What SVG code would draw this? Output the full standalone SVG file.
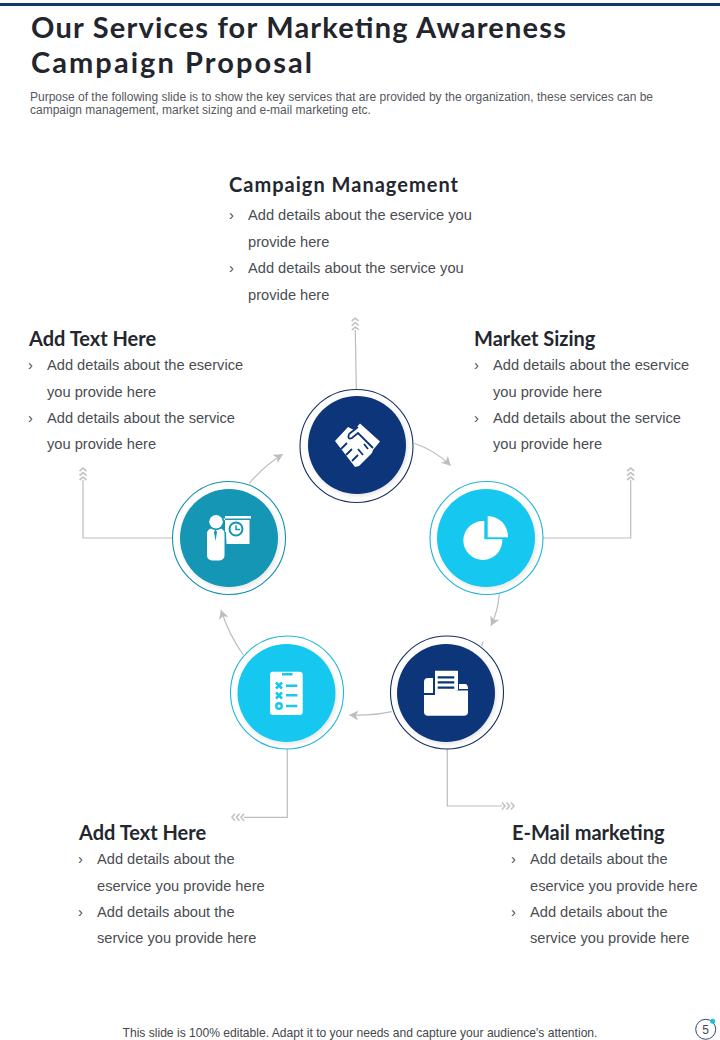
<svg xmlns="http://www.w3.org/2000/svg" width="720" height="1040" viewBox="0 0 720 1040">
<style>
.title{font:700 29px Lato,"Liberation Sans",sans-serif;fill:#22252c}
.sub{font:12px "Liberation Sans",Arial,sans-serif;fill:#55585e}
.h{font:700 20px Lato,"Liberation Sans",sans-serif;fill:#24272e}
.b{font:14.65px "Liberation Sans",Arial,sans-serif;fill:#4a4d52}
.foot{font:12.1px "Liberation Sans",Arial,sans-serif;fill:#44474c}
.c{fill:none;stroke:#bdbdbd;stroke-width:1.2}
.ring{fill:#fff;stroke-width:1.1}
.w{fill:#fff}
</style>
<defs>
<marker id="arr" markerUnits="userSpaceOnUse" markerWidth="14" markerHeight="14" refX="10" refY="6" orient="auto"><path d="M1 1L10 6L1 11L3.5 6Z" fill="#bdbdbd"/></marker>
<marker id="chev" markerUnits="userSpaceOnUse" markerWidth="16" markerHeight="12" refX="1" refY="5" orient="auto"><path d="M1 1.500L4 5L1 8.500M5.500 1.500L8.500 5L5.500 8.500M10 1.500L13 5L10 8.500" fill="none" stroke="#c4c4c4" stroke-width="1.700"/></marker>
<filter id="sh" x="-20%" y="-20%" width="140%" height="140%"><feDropShadow dx="1.500" dy="2" stdDeviation="2" flood-color="#000" flood-opacity=".1"/></filter>
</defs>
<rect id="top-bar" x="0" y="3" width="720" height="3" fill="#0f3a70"/>
<g id="header">
<text class="title" x="31" y="38" textLength="535" lengthAdjust="spacing">Our Services for Marketing Awareness</text>
<text class="title" x="31" y="73" textLength="281" lengthAdjust="spacing">Campaign Proposal</text>
<text class="sub" x="30" y="101">Purpose of the following slide is to show the key services that are provided by the organization, these services can be</text>
<text class="sub" x="30" y="114">campaign management, market sizing and e-mail marketing etc.</text>
</g>
<g id="connectors">
<path class="c" d="M356.300 389L355.300 330" marker-end="url(#chev)"/>
<path class="c" d="M543 538H630.700V480" marker-end="url(#chev)"/>
<path class="c" d="M172 538H83V480" marker-end="url(#chev)"/>
<path class="c" d="M287.300 749V817.300H244" marker-end="url(#chev)"/>
<path class="c" d="M447.300 749V806H502" marker-end="url(#chev)"/>
<path class="c" d="M414.300 443.300Q436 451 450.700 465.700" marker-end="url(#arr)"/>
<path class="c" d="M499.300 594.300Q498 611 491 625.700" marker-end="url(#arr)"/>
<path class="c" d="M483 641.700L481.700 646"/>
<path class="c" d="M391.700 711.700Q372 716 349.300 715" marker-end="url(#arr)"/>
<path class="c" d="M243.300 655Q229 635 221 610" marker-end="url(#arr)"/>
<path class="c" d="M249.300 483.300Q264 466 282.700 454.300" marker-end="url(#arr)"/>
</g>
<g id="node-campaign">
<circle class="ring" cx="356.500" cy="446" r="56.500" stroke="#14305f"/>
<circle cx="357" cy="445" r="49" fill="#0c3479" filter="url(#sh)"/>
<path class="w" d="M335 441L348 427L354 430L360 423.500L380 441.500L373 450L372 453L359 466L355 467Z"/>
<path d="M349 434Q347 440 352 438L358 433L373 448M349 434L358 427M341 449L347 443M346 455L352 449M352 461L358 455M358 449L363 455M364 444L368 449" fill="none" stroke="#0c3479" stroke-width="1.800"/>
<text class="h" x="229" y="192" textLength="229" lengthAdjust="spacing">Campaign Management</text>
<g class="b">
<text x="229" y="220">›</text><text x="248" y="220">Add details about the eservice you</text>
<text x="248" y="247">provide here</text>
<text x="229" y="273">›</text><text x="248" y="273">Add details about the service you</text>
<text x="248" y="300">provide here</text>
</g>
</g>
<g id="node-market">
<circle class="ring" cx="486.500" cy="538" r="56.500" stroke="#1fb6d8"/>
<circle cx="486" cy="538" r="49" fill="#14c8ef" filter="url(#sh)"/>
<path class="w" d="M484.300 521A19.500 19.500 0 1 0 502.300 539.300H484.300Z"/>
<path class="w" d="M487.700 516A20.500 20.500 0 0 1 508 537.300H487.700Z"/>
<text class="h" x="474" y="346">Market Sizing</text>
<g class="b">
<text x="474" y="370">›</text><text x="493" y="370">Add details about the eservice</text>
<text x="493" y="397">you provide here</text>
<text x="474" y="423">›</text><text x="493" y="423">Add details about the service</text>
<text x="493" y="449">you provide here</text>
</g>
</g>
<g id="node-email">
<circle class="ring" cx="447" cy="692.500" r="56.500" stroke="#14305f"/>
<circle cx="446" cy="693" r="49" fill="#0c3479" filter="url(#sh)"/>
<path class="w" d="M424 693V682Q424 678 428 678H433V693Z"/>
<path class="w" d="M459 684H465Q468 684 468 689H459Z"/>
<path class="w" d="M435 670.700H458V690L451 695H435Z"/>
<path class="w" d="M424 695H450L456 690.500H468V712Q468 715.700 464 715.700H428Q424 715.700 424 712Z"/>
<path d="M437.700 677.300H454.300M437.700 682.300H454.300M437.700 687.700H454.300" stroke="#0c3479" stroke-width="2.200" fill="none"/>
<text class="h" x="512" y="840">E-Mail marketing</text>
<g class="b">
<text x="511" y="864">›</text><text x="530" y="864">Add details about the</text>
<text x="530" y="891">eservice you provide here</text>
<text x="511" y="917">›</text><text x="530" y="917">Add details about the</text>
<text x="530" y="943">service you provide here</text>
</g>
</g>
<g id="node-addtext-bottom">
<circle class="ring" cx="287" cy="692.500" r="56.500" stroke="#1fb6d8"/>
<circle cx="286.500" cy="693" r="49" fill="#14c8ef" filter="url(#sh)"/>
<rect class="w" x="270" y="671.700" width="32.700" height="43.300" rx="3"/>
<path d="M282 674.300H292.500M286 685.700H297.300M286 695.300H297.300M286 706H297.300M276 682.500L282 688.500M282 682.500L276 688.500M276 692.500L282 698.500M282 692.500L276 698.500" stroke="#14c8ef" stroke-width="2.500" fill="none"/>
<circle cx="279" cy="706" r="2.700" fill="none" stroke="#14c8ef" stroke-width="2.400"/>
<text class="h" x="79" y="840">Add Text Here</text>
<g class="b">
<text x="78" y="864">›</text><text x="97" y="864">Add details about the</text>
<text x="97" y="891">eservice you provide here</text>
<text x="78" y="917">›</text><text x="97" y="917">Add details about the</text>
<text x="97" y="943">service you provide here</text>
</g>
</g>
<g id="node-addtext-left">
<circle class="ring" cx="229" cy="538" r="56.500" stroke="#1590ad"/>
<circle cx="229" cy="538" r="49" fill="#1296b5" filter="url(#sh)"/>
<path class="w" d="M224 520H251V518.500H223ZM225 516H251V520H249.500V544H226.500L226 532H225Z"/>
<rect class="w" x="207" y="528.500" width="17.500" height="32" rx="5"/>
<circle cx="216" cy="522" r="8.300" fill="#1296b5"/>
<circle class="w" cx="216" cy="521.700" r="6.800"/>
<path d="M215.500 529.500L214 532L215.500 541L217 532Z" fill="#1296b5"/>
<circle cx="236" cy="529" r="6.500" fill="none" stroke="#1296b5" stroke-width="2"/>
<path d="M236 525.500V529.500H240" fill="none" stroke="#1296b5" stroke-width="1.500"/>
<text class="h" x="29" y="346">Add Text Here</text>
<g class="b">
<text x="28" y="370">›</text><text x="47" y="370">Add details about the eservice</text>
<text x="47" y="397">you provide here</text>
<text x="28" y="423">›</text><text x="47" y="423">Add details about the service</text>
<text x="47" y="449">you provide here</text>
</g>
</g>
<g id="footer">
<text class="foot" x="360" y="1037" text-anchor="middle">This slide is 100% editable. Adapt it to your needs and capture your audience's attention.</text>
<circle cx="705.700" cy="1029.300" r="10" fill="#fff" stroke="#2c4a6e" stroke-width="1"/>
<circle cx="712.700" cy="1021.300" r="2.500" fill="#1cc0e0"/>
<text x="705.700" y="1034" text-anchor="middle" style="font:12px 'Liberation Sans',Arial,sans-serif;fill:#44474c">5</text>
</g>
</svg>
